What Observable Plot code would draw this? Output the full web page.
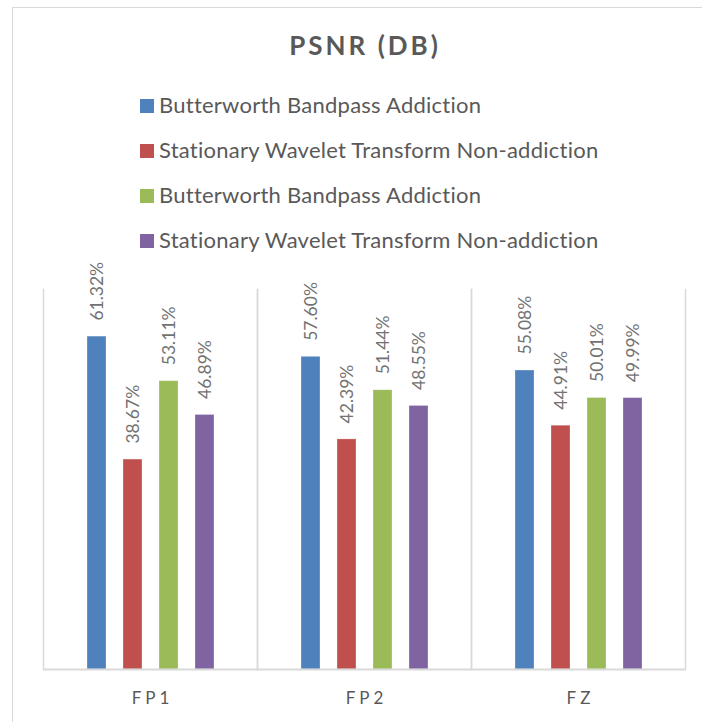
<!DOCTYPE html>
<html>
<head>
<meta charset="utf-8">
<script src="https://cdn.jsdelivr.net/npm/d3@7"></script>
<script src="https://cdn.jsdelivr.net/npm/@observablehq/plot@0.6"></script>
<style>
  html, body { margin: 0; padding: 0; background: #fff; }
  body { width: 702px; height: 722px; position: relative; overflow: hidden; font-family: Lato, "Open Sans", sans-serif; }
  #frame { position: absolute; left: 12px; top: 7px; width: 900px; height: 900px; border-left: 1.5px solid #d9d9d9; border-top: 1.5px solid #d9d9d9; }
  #title { position: absolute; left: 212px; width: 300px; top: 32px; text-align: center; font-weight: bold; font-size: 26px; line-height: 26px; letter-spacing: 3px; padding-left: 3px; color: #595959; }
  #legend { position: absolute; left: 140px; top: 0; }
  .row { position: absolute; left: 0; height: 22px; white-space: nowrap; font-size: 22px; line-height: 22px; letter-spacing: 0.25px; color: #595959; }
  .sw { position: absolute; left: 0; top: 5.5px; width: 14px; height: 14px; }
  .lab { position: absolute; left: 19px; top: 0; }
  #chart { position: absolute; left: 0; top: 260px; }
</style>
</head>
<body>
<div id="frame"></div>
<div id="title">PSNR (DB)</div>
<div id="legend"></div>
<div id="chart"></div>
<script>
// ---- data ----
const categories = ["FP1", "FP2", "FZ"];
const seriesKeys = ["s1", "s2", "s3", "s4"];
const seriesNames = [
  "Butterworth Bandpass Addiction",
  "Stationary Wavelet Transform Non-addiction",
  "Butterworth Bandpass Addiction",
  "Stationary Wavelet Transform Non-addiction"
];
const seriesColors = ["#4f81bd", "#c0504d", "#9bbb59", "#8064a2"];
const s1Values = [61.32, 57.60, 55.08];
const s2Values = [38.67, 42.39, 44.91];
const s3Values = [53.11, 51.44, 50.01];
const s4Values = [46.89, 48.55, 49.99];
const seriesValues = [s1Values, s2Values, s3Values, s4Values];
const yDomain = [0, 70];

const data = [];
categories.forEach((cat, i) => {
  seriesKeys.forEach((key, j) => {
    data.push({cat, key, value: seriesValues[j][i]});
  });
});

// ---- legend ----
const legend = document.getElementById("legend");
const rowTops = [93.5, 138.5, 183.5, 228.5];
seriesKeys.forEach((k, j) => {
  const row = document.createElement("div");
  row.className = "row";
  row.style.top = rowTops[j] + "px";
  const sw = document.createElement("span");
  sw.className = "sw";
  sw.style.background = seriesColors[j];
  const lab = document.createElement("span");
  lab.className = "lab";
  lab.textContent = seriesNames[j];
  row.appendChild(sw);
  row.appendChild(lab);
  legend.appendChild(row);
});

// ---- chart ----
const chart = Plot.plot({
  width: 702,
  height: 462,
  marginTop: 29,
  marginBottom: 53,
  marginLeft: 42,
  marginRight: 17,
  style: {fontFamily: "Lato, 'Open Sans', sans-serif", background: "transparent"},
  fx: {domain: categories, padding: 0, label: null},
  x: {domain: seriesKeys, paddingInner: 0.477, paddingOuter: 1.19, axis: null},
  y: {domain: yDomain, axis: null},
  color: {domain: seriesKeys, range: seriesColors},
  marks: [
    Plot.frame({anchor: "left", stroke: "#d9d9d9", strokeWidth: 1.5}),
    Plot.frame({anchor: "right", stroke: "#d9d9d9", strokeWidth: 1.5}),
    Plot.barY(data, {fx: "cat", x: "key", y: "value", fill: "key", stroke: "#ffffff", strokeOpacity: 0.35, strokeWidth: 0.8}),
    Plot.ruleY([0], {stroke: "#d9d9d9", strokeWidth: 2}),
    Plot.text(data, {
      fx: "cat", x: "key", y: "value",
      text: d => d.value.toFixed(2) + "%",
      rotate: -90, textAnchor: "start", dy: -16,
      fill: "#727272", fontSize: 17.5
    }),
    Plot.axisFx({anchor: "bottom", tickSize: 0, tickPadding: 22, fontSize: 17, label: null, fill: "#595959"})
  ]
});
document.getElementById("chart").appendChild(chart);
d3.select(chart).selectAll('[aria-label="fx-axis tick label"] text')
  .style("letter-spacing", "4px")
  .attr("dx", "2px");
</script>
</body>
</html>
